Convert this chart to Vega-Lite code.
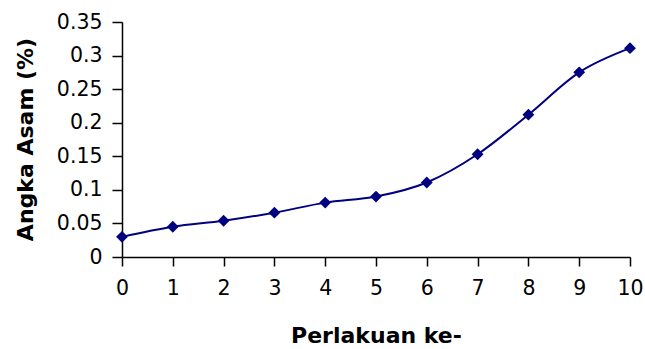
{
  "$schema": "https://vega.github.io/schema/vega-lite/v6.json",
  "autosize": {"type": "none"},
  "width": 508,
  "height": 235,
  "padding": {"left": 122, "top": 22, "right": 15, "bottom": 92},
  "background": "white",
  "config": {
    "view": {"stroke": null},
    "font": "DejaVu Sans",
    "axis": {
      "grid": false,
      "domainColor": "black",
      "domainWidth": 1.5,
      "tickColor": "black",
      "tickWidth": 1.5,
      "labelColor": "black",
      "titleColor": "black",
      "labelFont": "DejaVu Sans",
      "titleFont": "DejaVu Sans",
      "labelFontSize": 20.5,
      "titleFontSize": 22,
      "titleFontWeight": "bold"
    }
  },
  "data": {
    "values": [
      {"x": 0, "y": 0.030},
      {"x": 1, "y": 0.045},
      {"x": 2, "y": 0.054},
      {"x": 3, "y": 0.066},
      {"x": 4, "y": 0.081},
      {"x": 5, "y": 0.090},
      {"x": 6, "y": 0.111},
      {"x": 7, "y": 0.153},
      {"x": 8, "y": 0.212},
      {"x": 9, "y": 0.275},
      {"x": 10, "y": 0.311}
    ]
  },
  "encoding": {
    "x": {
      "field": "x",
      "type": "quantitative",
      "scale": {"domain": [0, 10], "nice": false, "zero": false},
      "axis": {
        "values": [0, 1, 2, 3, 4, 5, 6, 7, 8, 9, 10],
        "title": "Perlakuan ke-",
        "tickSize": 9,
        "labelPadding": 12,
        "labelFlush": false,
        "titleX": 254,
        "titleY": 85,
        "titleAlign": "center",
        "titleBaseline": "alphabetic"
      }
    },
    "y": {
      "field": "y",
      "type": "quantitative",
      "scale": {"domain": [0, 0.35], "nice": false},
      "axis": {
        "values": [0, 0.05, 0.1, 0.15, 0.2, 0.25, 0.3, 0.35],
        "format": ".2~f",
        "title": "Angka Asam (%)",
        "tickSize": 10,
        "labelPadding": 10,
        "labelFlush": false,
        "titleX": -97,
        "titleY": 117,
        "titleAngle": -90,
        "titleAlign": "center",
        "titleBaseline": "middle"
      }
    }
  },
  "layer": [
    {"mark": {"type": "line", "color": "#000080", "strokeWidth": 2, "interpolate": "monotone"}},
    {"mark": {"type": "point", "shape": "diamond", "filled": true, "color": "#000080", "size": 140, "opacity": 1}}
  ]
}
